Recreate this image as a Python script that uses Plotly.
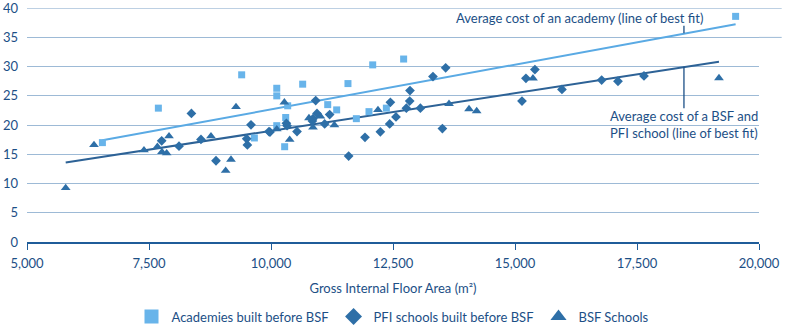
import plotly.graph_objects as go

# Academies built before BSF
acad_x = [6545, 7692, 9399, 9659, 10118, 10118, 10118, 10280, 10301, 10342, 10649,
          11162, 11346, 11577, 11749, 12008, 12084, 12364, 12718, 19521]
acad_y = [17.0, 22.9, 28.6, 17.8, 26.3, 25.0, 19.9, 16.3, 21.3, 23.3, 27.0,
          23.5, 22.6, 27.1, 21.1, 22.3, 30.3, 22.9, 31.3, 38.6]

# PFI schools built before BSF
pfi_x = [7760, 8115, 8369, 8565, 8873, 9502, 9516, 9590, 9959, 9979, 10315, 10330,
         10533, 10848, 10860, 10916, 10942, 11100, 11202, 11591, 11926, 12241, 12432,
         12446, 12561, 12774, 12842, 12848, 13061, 13319, 13512, 13579, 15143, 15224,
         15408, 15962, 16776, 17110, 17643]
pfi_y = [17.3, 16.4, 22.0, 17.55, 13.9, 17.65, 16.6, 20.05, 18.9, 18.8, 20.3, 19.9,
         18.9, 20.7, 21.1, 24.2, 22.0, 20.2, 21.8, 14.7, 17.9, 18.85, 20.2,
         23.9, 21.4, 22.9, 24.1, 25.9, 22.9, 28.3, 19.4, 29.8, 24.1, 28.0,
         29.5, 26.1, 27.7, 27.5, 28.4]

# BSF Schools
bsf_x = [5793, 6373, 7397, 7672, 7766, 7862, 7910, 8770, 9071, 9180, 9283, 10118,
         10274, 10383, 10778, 10860, 11012, 11299, 12192, 13648, 14058, 14215, 15368, 19180]
bsf_y = [9.25, 16.6, 15.7, 16.3, 15.4, 15.2, 18.1, 18.1, 12.2, 14.1, 23.1, 19.3,
         23.9, 17.5, 21.2, 19.6, 21.5, 20.0, 22.6, 23.65, 22.75, 22.4, 28.0, 28.05]

# Lines of best fit (end points)
acad_fit_x = [6545, 19521]
acad_fit_y = [17.4, 37.25]
school_fit_x = [5793, 19180]
school_fit_y = [13.6, 30.85]

x_ticks = [5000, 7500, 10000, 12500, 15000, 17500, 20000]
x_tick_labels = ["5,000", "7,500", "10,000", "12,500", "15,000", "17,500", "20,000"]
y_ticks = [0, 5, 10, 15, 20, 25, 30, 35, 40]

LIGHT = "#68b4ea"
DARK = "#2e6fa7"
TEXT = "#1c4f86"
GRID = "#9dbad6"
FONT = "Lato"

fig = go.Figure()

fig.add_trace(go.Scatter(x=acad_fit_x, y=acad_fit_y, mode="lines",
                         line=dict(color="#5aaae4", width=2), showlegend=False, hoverinfo="skip"))
fig.add_trace(go.Scatter(x=school_fit_x, y=school_fit_y, mode="lines",
                         line=dict(color="#2d6296", width=2), showlegend=False, hoverinfo="skip"))

fig.add_trace(go.Scatter(x=acad_x, y=acad_y, mode="markers", showlegend=False,
                         marker=dict(symbol="square", size=7, color=LIGHT)))
fig.add_trace(go.Scatter(x=pfi_x, y=pfi_y, mode="markers", showlegend=False,
                         marker=dict(symbol="diamond", size=7.5, color=DARK)))
fig.add_trace(go.Scatter(x=bsf_x, y=bsf_y, mode="markers", showlegend=False,
                         marker=dict(symbol="triangle-up", size=8.5, color=DARK)))

# legend entries
fig.add_trace(go.Scatter(x=[None], y=[None], mode="markers", name="Academies built before BSF",
                         marker=dict(symbol="square", size=14, color=LIGHT)))
fig.add_trace(go.Scatter(x=[None], y=[None], mode="markers", name="PFI schools built before BSF",
                         marker=dict(symbol="diamond", size=13, color=DARK)))
fig.add_trace(go.Scatter(x=[None], y=[None], mode="markers", name="BSF Schools",
                         marker=dict(symbol="triangle-up", size=14, color=DARK)))

# annotations with leader lines
fig.add_annotation(x=18890, y=38.4, xref="x", yref="y", xanchor="right", yanchor="middle",
                   text="Average cost of an academy (line of best fit)", showarrow=False,
                   font=dict(family=FONT, size=13, color=TEXT))
fig.add_annotation(x=16900, y=23.3, xref="x", yref="y", xanchor="left", yanchor="top",
                   align="left",
                   text="Average cost of a BSF and<br>PFI school (line of best fit)", showarrow=False,
                   font=dict(family=FONT, size=13, color=TEXT))
fig.add_shape(type="line", x0=18462, x1=18462, y0=35.7, y1=37.0, xref="x", yref="y",
              line=dict(color=TEXT, width=1.3))
fig.add_shape(type="line", x0=18462, x1=18462, y0=22.9, y1=30.0, xref="x", yref="y",
              line=dict(color=TEXT, width=1.3))

# top gridline (at the plot edge) and the extension of the top two gridlines
fig.add_shape(type="line", xref="paper", yref="y", x0=0, x1=1.031, y0=40, y1=40,
              line=dict(color=GRID, width=1), layer="below")
fig.add_shape(type="line", xref="paper", yref="y", x0=1, x1=1.031, y0=35, y1=35,
              line=dict(color=GRID, width=1), layer="below")

fig.update_layout(
    width=789, height=328,
    margin=dict(l=27, r=30, t=8, b=86, autoexpand=False),
    plot_bgcolor="white", paper_bgcolor="white",
    font=dict(family=FONT, size=13, color=TEXT),
    xaxis=dict(range=[5000, 20000], tickvals=x_ticks, ticktext=x_tick_labels,
               showgrid=False, zeroline=False, showline=True, linecolor="#1f5c99",
               linewidth=1.5, ticks="outside", ticklen=6, tickcolor="#1f5c99",
               ticklabelstandoff=3, ticklabeloverflow="allow",
               tickfont=dict(family=FONT, size=13, color=TEXT),
               title=dict(text="Gross Internal Floor Area (m²)", standoff=14,
                          font=dict(family=FONT, size=13, color=TEXT))),
    yaxis=dict(range=[0, 40.03], tickvals=y_ticks, showgrid=True, gridcolor=GRID,
               gridwidth=1, zeroline=False, showline=False, ticks="",
               ticklabelstandoff=8, ticklabeloverflow="allow",
               tickfont=dict(family=FONT, size=13, color=TEXT)),
    legend=dict(orientation="h", x=0.5, xanchor="center", yref="container",
                y=0.035, yanchor="middle",
                font=dict(family=FONT, size=13, color=TEXT)),
    showlegend=True,
)

fig.write_html("out.html")
